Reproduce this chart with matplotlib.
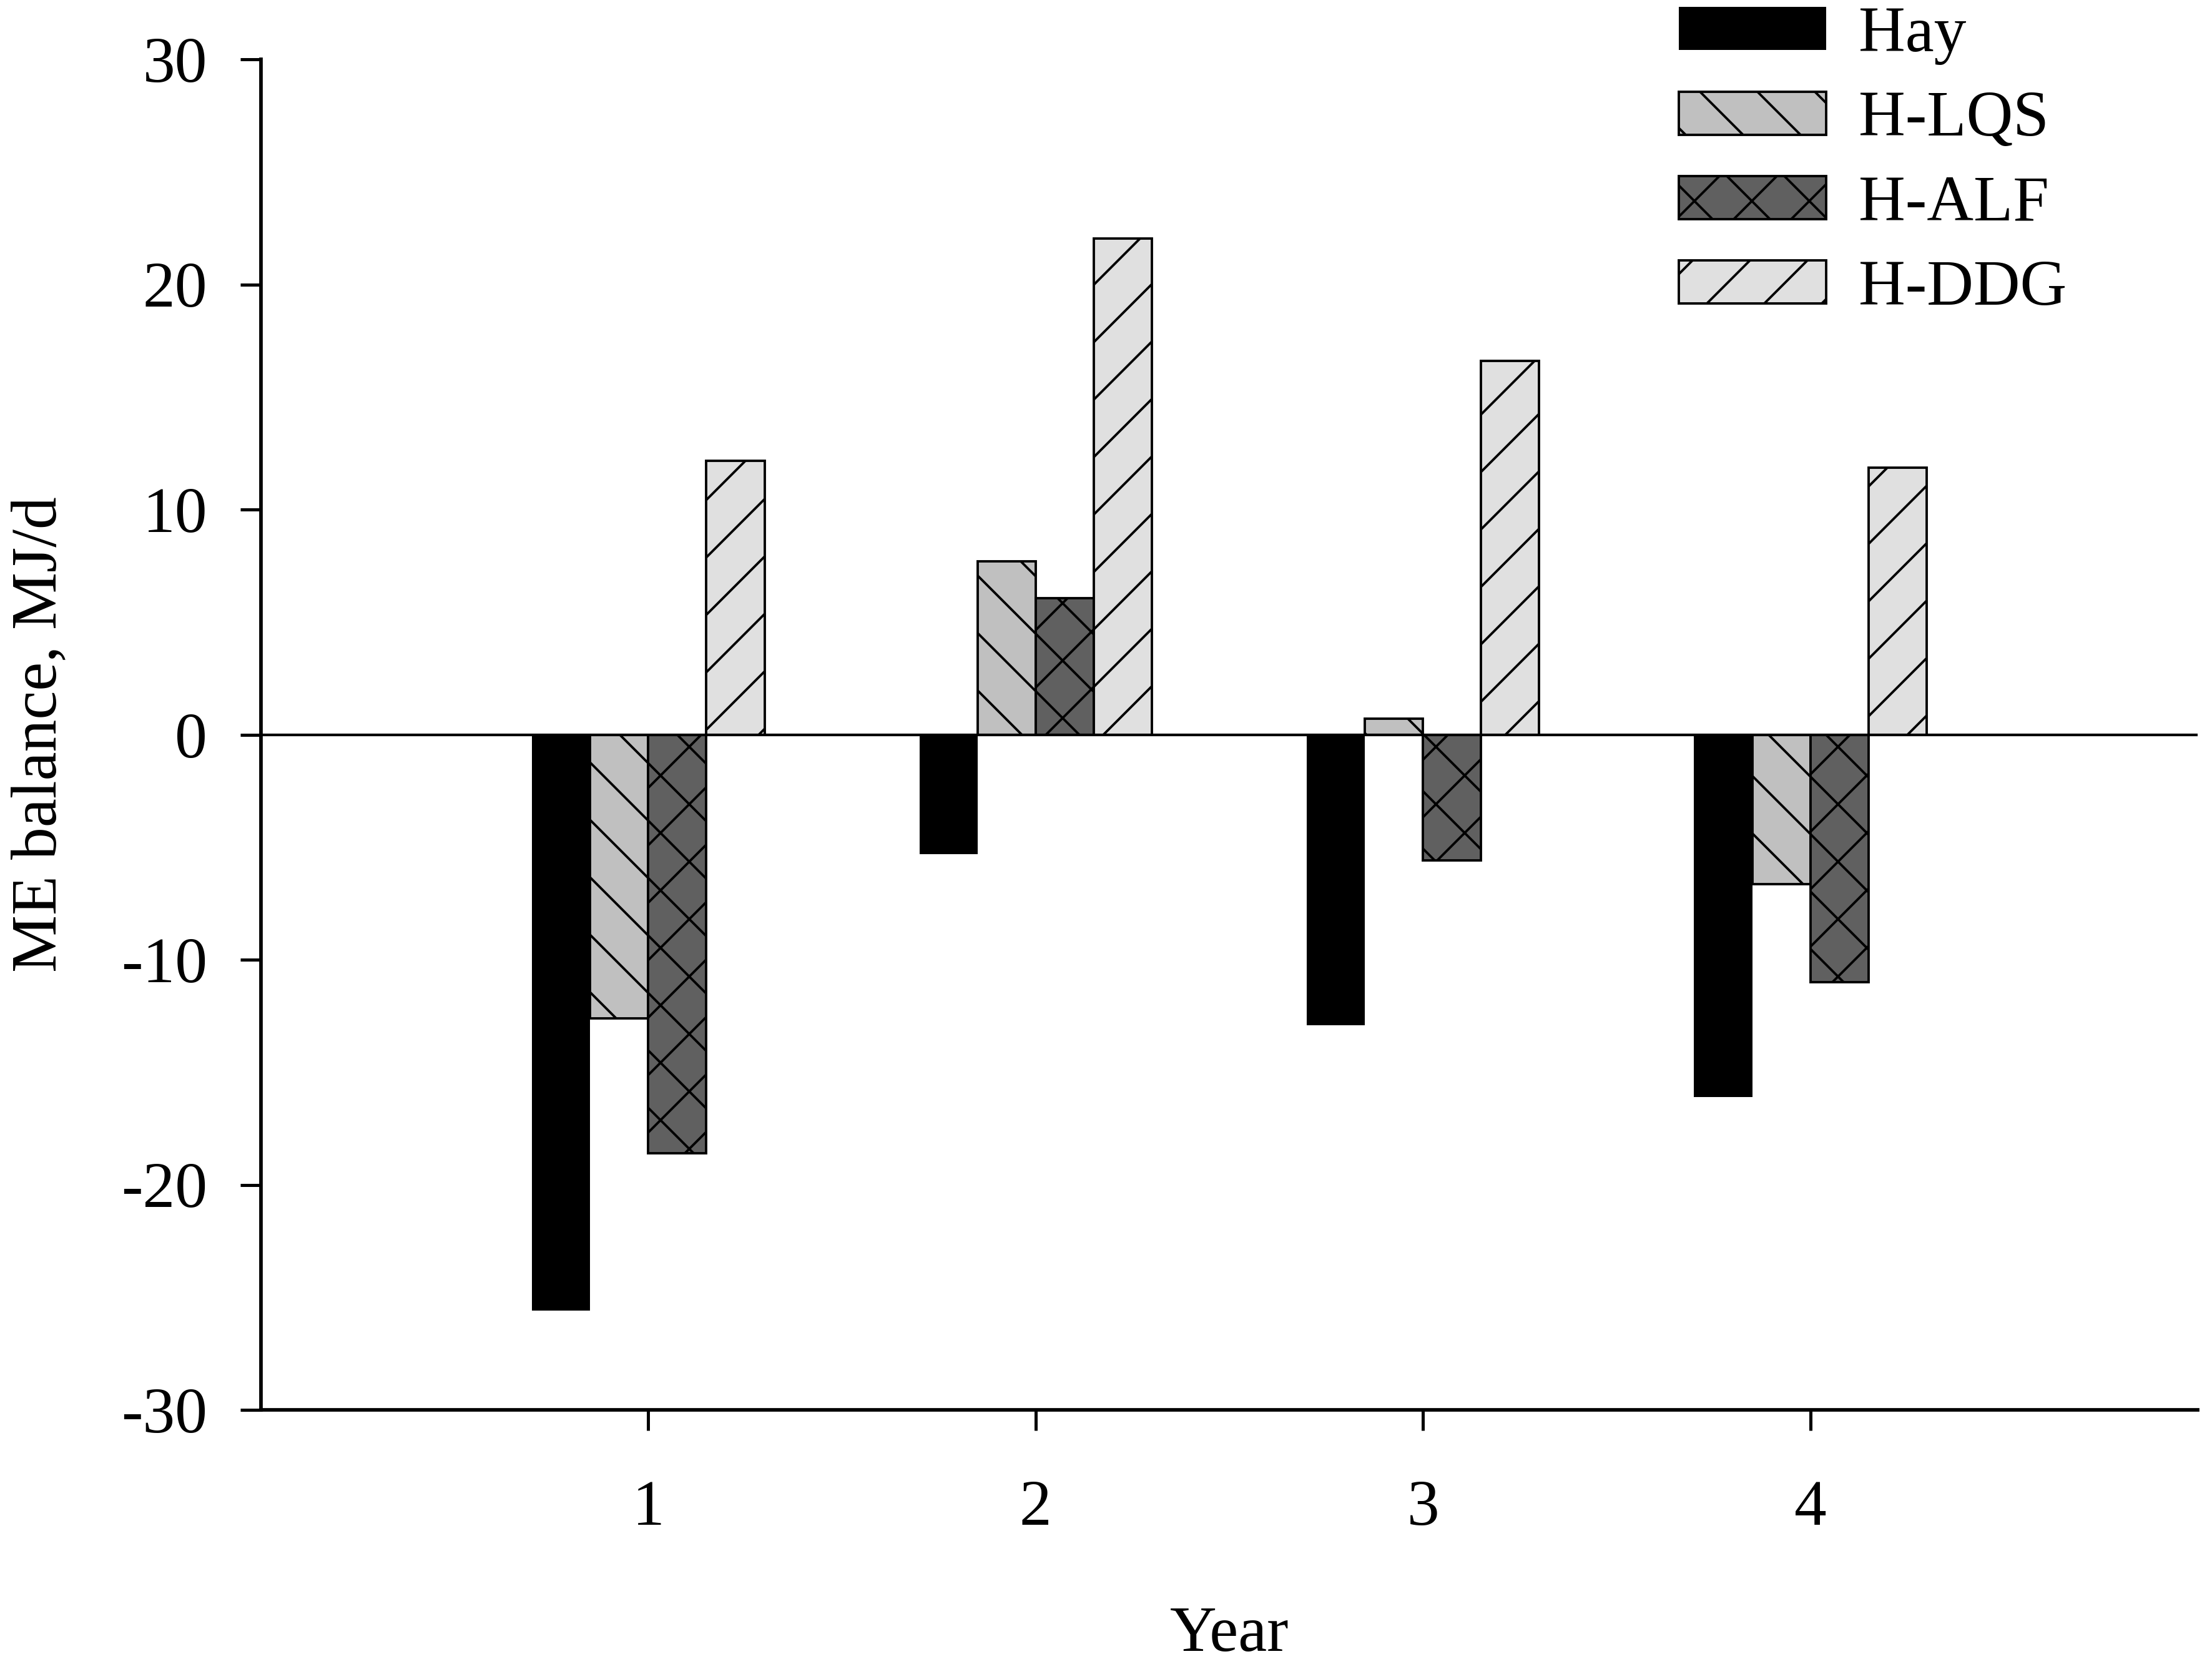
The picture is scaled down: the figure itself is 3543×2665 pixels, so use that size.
"""
ME balance by year for the four forage treatments (grouped bar chart).
Output: out.png
"""

import numpy as np
import matplotlib
matplotlib.use("Agg")
import matplotlib.pyplot as plt

# ---------------------------------------------------------------------------
# Data
# ---------------------------------------------------------------------------

years = [1, 2, 3, 4]
year_labels = ["1", "2", "3", "4"]

series_names = ["Hay", "H-LQS", "H-ALF", "H-DDG"]
hay = [-25.6, -5.3, -12.9, -16.1]
h_lqs = [-12.6, 7.7, 0.7, -6.65]
h_alf = [-18.6, 6.05, -5.6, -11.0]
h_ddg = [12.15, 22.05, 16.6, 11.85]

y_ticks = [-30, -20, -10, 0, 10, 20, 30]

# ---------------------------------------------------------------------------
# Style
# ---------------------------------------------------------------------------

DPI = 276  # hatch tile is one inch, so this sets the hatch spacing
plt.rcParams["font.family"] = ["Liberation Serif", "DejaVu Serif"]
plt.rcParams["axes.unicode_minus"] = False
plt.rcParams["hatch.linewidth"] = 1.0
plt.rcParams["hatch.color"] = "black"

fs = 27
bar_w = 0.15

fig = plt.figure(figsize=(3543 / DPI, 2665 / DPI), dpi=DPI)
ax = fig.add_axes([418 / 3543, 1 - 2258 / 2665,
                   (3520 - 418) / 3543, (2258 - 95) / 2665])

x = np.array(years, dtype=float)
styles = [
    dict(color="black", edgecolor="black", hatch=None, lw=0.0),
    dict(color="#c0c0c0", edgecolor="black", hatch="\\", lw=1.0),
    dict(color="#606060", edgecolor="black", hatch="x", lw=1.0),
    dict(color="#e0e0e0", edgecolor="black", hatch="/", lw=1.0),
]
offsets = [-1.5, -0.5, 0.5, 1.5]

for vals, name, st, off in zip([hay, h_lqs, h_alf, h_ddg], series_names,
                               styles, offsets):
    ax.bar(x + off * bar_w, vals, width=bar_w, color=st["color"],
           edgecolor=st["edgecolor"], hatch=st["hatch"], linewidth=st["lw"],
           label=name, zorder=2)

# zero line across the whole plot
ax.axhline(0, color="black", lw=1.1, zorder=3)

# ---------------------------------------------------------------------------
# Axes
# ---------------------------------------------------------------------------

ax.set_xlim(0, 5)
ax.set_ylim(-30, 30)
ax.set_xticks(years)
ax.set_xticklabels(year_labels)
ax.set_yticks(y_ticks)
ax.set_yticklabels([str(t) for t in y_ticks])

for side in ["top", "right"]:
    ax.spines[side].set_visible(False)
for side in ["left", "bottom"]:
    ax.spines[side].set_linewidth(1.5)

ax.tick_params(axis="both", direction="out", length=8.6, width=1.3,
               labelsize=fs)
ax.tick_params(axis="y", pad=13.8)
ax.tick_params(axis="x", pad=20.5)

ax.set_ylabel("ME balance, MJ/d", fontsize=fs)
ax.set_xlabel("Year", fontsize=fs)
ax.yaxis.set_label_coords(-0.099, 0.5)
ax.xaxis.set_label_coords(0.5, -0.145)

leg = ax.legend(loc="upper left",
                bbox_to_anchor=(2689 / 3543, 1 - 10 / 2665),
                bbox_transform=fig.transFigure,
                frameon=False, fontsize=fs, borderpad=0, borderaxespad=0,
                handlelength=2.28, handleheight=0.65, handletextpad=0.5,
                labelspacing=0.4)

fig.savefig("out.png", dpi=DPI)
